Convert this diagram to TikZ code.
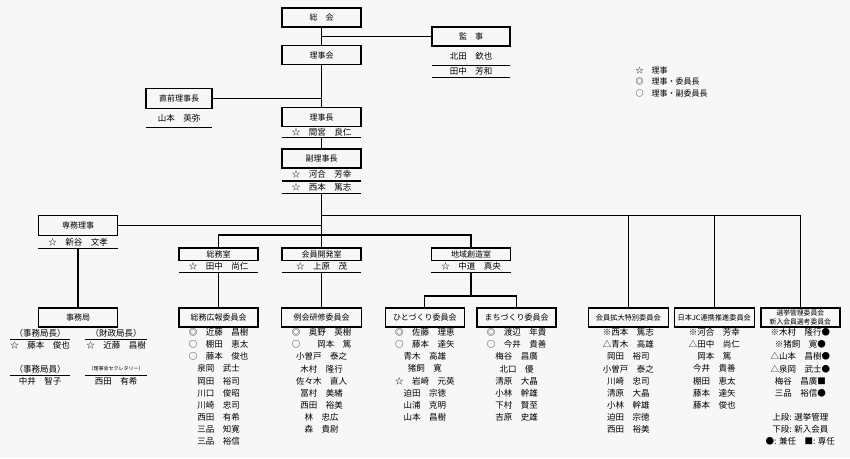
\documentclass[tikz,border=0pt]{standalone}
\usepackage{fontspec}
\setmainfont{Noto Sans CJK JP}
\usetikzlibrary{positioning}

\begin{document}
\begin{tikzpicture}[x=1pt,y=-1pt,
    font=\fontsize{8.5}{12.05}\selectfont,
    box/.style={draw,line width=1.5pt,minimum width=79pt,minimum height=19pt,inner sep=0pt,font=\fontsize{8}{10}\selectfont},
    room/.style={box,minimum height=12.5pt},
    ln/.style={draw,line width=1.2pt},
    nm/.style={minimum width=79pt,minimum height=12pt,inner sep=0pt,
      append after command={(\tikzlastnode.south west) edge[ln] (\tikzlastnode.south east)}},
    nmx/.style={minimum height=12pt,inner sep=0pt},
    mem/.style={align=center,inner sep=0pt,anchor=north}]

    \fill [white!97!black] (0,0) rectangle (850,458);
    \useasboundingbox (0,0) rectangle (850,458);

    % top
    \node [box] (soukai) at (321.5,17.5) {総　会};
    \node [box,minimum width=78pt] (kanji) at (471,36.5) {監　事};
    \node [nm,minimum width=78pt,minimum height=18pt,below=0pt of kanji] (kanji1) {北田　欽也};
    \node [nm,minimum width=78pt,below=0pt of kanji1] (kanji2) {田中　芳和};

    \node [box] (rijikai) at (321.5,55) {理事会};
    \node [box,minimum width=66pt,minimum height=20pt] (zenriji) at (179,98.3) {直前理事長};
    \node [nm,minimum width=66pt,minimum height=18pt,below=0pt of zenriji] (zenriji1) {山本　英弥};

    \node [box] (richo) at (321.5,117) {理事長};
    \node [nm,minimum height=10pt,below=0pt of richo] (richo1) {☆　間宮　良仁};
    \node [box] (fukuriji) at (321.5,158.3) {副理事長};
    \node [nm,below=0pt of fukuriji] (fukuriji1) {☆　河合　芳幸};
    \node [nm,below=0pt of fukuriji1] (fukuriji2) {☆　西本　篤志};

    \node [align=left,inner sep=0pt,anchor=north west,font=\fontsize{8}{11.3}\selectfont] (legend) at (635.5,66.5)
      {☆　理事\\◎　理事・委員長\\○　理事・副委員長};

    % left
    \node [box,minimum height=20pt] (senmu) at (78,225.7) {専務理事};
    \node [nm,below=0pt of senmu] (senmu1) {☆　新谷　文孝};
    \node [box] (jimu) at (78,317.5) {事務局};
    \node [nm,minimum width=60pt] (jchief) at (40,333) {（事務局長）};
    \node [nmx,below=0pt of jchief] (jchief1) {☆　藤本　俊也};
    \node [nm,minimum width=62pt] (fchief) at (116,333) {（財政局長）};
    \node [nmx,below=0pt of fchief] (fchief1) {☆　近藤　昌樹};
    \node [nm,minimum width=60pt] (jstaff) at (40,369) {（事務局員）};
    \node [nmx,below=0pt of jstaff] (jstaff1) {中井　智子};
    \node [nm,minimum width=62pt,font=\fontsize{5}{6}\selectfont] (secr) at (116,369) {（理事会セクレタリー）};
    \node [nmx,below=0pt of secr] (secr1) {西田　有希};

    % offices
    \node [room] (somu) at (218.5,254) {総務室};
    \node [nm,minimum height=11pt,below=0pt of somu] (somu1) {☆　田中　尚仁};
    \node [room] (kaiin) at (321.5,254) {会員開発室};
    \node [nm,minimum height=11pt,below=0pt of kaiin] (kaiin1) {☆　上原　茂};
    \node [room] (chiiki) at (471,254) {地域創造室};
    \node [nm,minimum height=11pt,below=0pt of chiiki] (chiiki1) {☆　中道　真央};

    % committees
    \node [box] (soukou) at (218.5,317.5) {総務広報委員会};
    \node [box,minimum width=80pt] (reikai) at (321.5,317.5) {例会研修委員会};
    \node [box] (hito) at (424.8,317.5) {ひとづくり委員会};
    \node [box] (machi) at (516.7,317.5) {まちづくり委員会};
    \node [box,minimum width=80pt,font=\fontsize{7.2}{9}\selectfont] (kakudai) at (628.3,317.5) {会員拡大特別委員会};
    \node [box,minimum width=80pt,font=\fontsize{7.2}{9}\selectfont] (nihon) at (714.3,317.5) {日本JC連携推進委員会};
    \node [box,align=center,font=\fontsize{6.8}{8.6}\selectfont] (senkyo) at (800.3,317.5) {選挙管理委員会\\新入会員選考委員会};

    \node [mem] (soukouM) at (soukou.south |- 0,328.5) {◎　近藤　昌樹\\○　棚田　恵太\\○　藤本　俊也\\泉岡　武士\\岡田　裕司\\川口　俊昭\\川崎　忠司\\西田　有希\\三品　知寛\\三品　裕信};
    \node [mem] (reikaiM) at (reikai.south |- 0,328.5) {◎　奥野　英樹\\○　　岡本　篤\\小曽戸　泰之\\木村　隆行\\佐々木　直人\\冨村　美緒\\西田　裕美\\林　忠広\\森　貴尉};
    \node [mem] (hitoM) at (hito.south |- 0,328.5) {◎　佐藤　理恵\\○　藤本　達矢\\青木　高雄\\猪飼　寛\\☆　岩崎　元英\\迫田　宗徳\\山浦　克明\\山本　昌樹};
    \node [mem] (machiM) at (machi.south |- 0,328.5) {◎　渡辺　年貴\\○　今井　貴善\\梅谷　昌廣\\北口　優\\清原　大晶\\小林　幹雄\\下村　賢至\\吉原　史雄};
    \node [mem] (kakudaiM) at (kakudai.south |- 0,328.5) {※西本　篤志\\△青木　高雄\\岡田　裕司\\小曽戸　泰之\\川崎　忠司\\清原　大晶\\小林　幹雄\\迫田　宗徳\\西田　裕美};
    \node [mem] (nihonM) at (nihon.south |- 0,328.5) {※河合　芳幸\\△田中　尚仁\\岡本　篤\\今井　貴善\\棚田　恵太\\藤本　達矢\\藤本　俊也};
    \node [mem] (senkyoM) at (senkyo.south |- 0,328.5) {※木村　隆行●\\※猪飼　寛●\\△山本　昌樹●\\△泉岡　武士●\\梅谷　昌廣■\\三品　裕信●\\[12pt]上段: 選挙管理\\下段: 新入会員\\●: 兼任　■: 専任};

    % connectors
    \coordinate (rjct) at (321.5,215.7);
    \coordinate (ojct) at (321.5,235);
    \coordinate (cjct) at (471,296);

    \draw [ln] (soukai) -- (rijikai);
    \draw [ln] (kanji.west) -- (kanji.west -| soukai.south);
    \draw [ln] (rijikai) -- (richo);
    \draw [ln] (zenriji.east) -- (zenriji.east -| rijikai.south);
    \draw [ln] (richo1) -- (fukuriji);
    \draw [ln] (fukuriji2) -- (kaiin);
    \draw [ln] (senmu.east) -- (senmu.east -| fukuriji2.south);
    \draw [ln] (senmu1) -- (jimu);
    \draw [ln] (rjct) -| (senkyo.north);
    \draw [ln] (kakudai.north) |- (rjct);
    \draw [ln] (nihon.north) |- (rjct);
    \draw [ln] (somu.north) |- (ojct) -| (chiiki.north);
    \draw [ln] (somu1) -- (soukou);
    \draw [ln] (kaiin1) -- (reikai);
    \draw [ln] (chiiki1) -- (cjct);
    \draw [ln] (hito.north) |- (cjct) -| (machi.north);
  \end{tikzpicture}
\end{document}
